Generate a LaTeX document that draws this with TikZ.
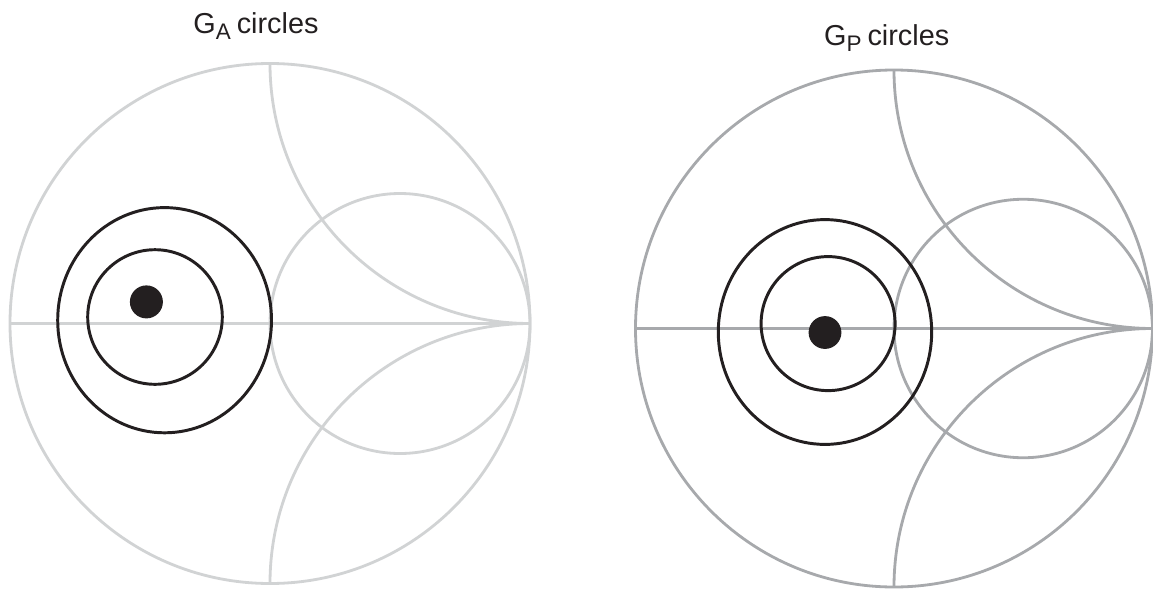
\documentclass[tikz,border=0pt]{standalone}
\usepackage{fontspec}
\setmainfont{Liberation Sans}
\usetikzlibrary{positioning}

\definecolor{gridlight}{HTML}{D1D3D4}
\definecolor{griddark}{HTML}{A7A9AC}
\definecolor{inkblack}{HTML}{231F20}

% subscript as it is set in the titles
\newcommand{\gsub}[1]{\raisebox{-4.3pt}{\fontsize{16}{16}\selectfont #1}\hspace{-1.5pt}}

% Smith chart grid: unit circle, real axis, r=1 circle, x=+-1 arcs
\newcommand{\smithgrid}[3]{%
  \begin{scope}[shift={#1}, scale=#2, grid/.try, #3]
    \draw (0,0) circle [radius=1];
    \draw (-1,0) -- (1,0);
    \draw (0.5,0) circle [radius=0.5];
    \draw (0,1) arc [start angle=180, end angle=270, radius=1];
    \draw (0,-1) arc [start angle=180, end angle=90, radius=1];
  \end{scope}}

\begin{document}
\begin{tikzpicture}[
    x=0.025cm, y=0.025cm,
    grid/.style={line width=2pt},
    gain/.style={draw=inkblack, line width=2.1pt},
    opt/.style={fill=inkblack},
    title/.style={font=\fontsize{20.5}{24}\selectfont, text=inkblack, inner sep=0pt, anchor=base}
]
\useasboundingbox (0,0) rectangle (1153,-593);

% left chart
\smithgrid{(270,-323.5)}{260}{draw=gridlight}
\node[title] (titleA) at (256,-33) {G\gsub{A} circles};
\draw[gain] (164.6,-320.2) ellipse [x radius=106.9, y radius=112.6];
\draw[gain] (155,-317) circle [radius=67.3];
\fill[opt] (146.4,-301.9) circle [radius=16.5];

% right chart
\smithgrid{(894,-328.5)}{258.5}{draw=griddark}
\node[title] (titleP) at (886.7,-45) {G\gsub{P} circles};
\draw[gain] (825,-332) ellipse [x radius=106.7, y radius=112.4];
\draw[gain] (828.1,-323.6) circle [radius=67];
\fill[opt] (825,-332.5) circle [radius=16.4];
\end{tikzpicture}
\end{document}
